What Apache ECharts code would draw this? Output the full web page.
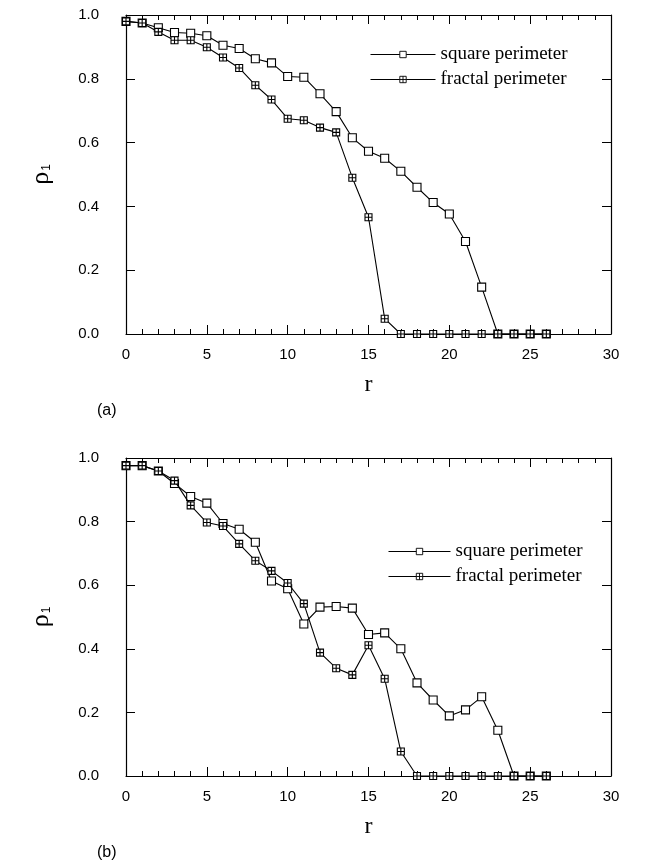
<!DOCTYPE html>
<html><head><meta charset="utf-8">
<script src="https://cdn.jsdelivr.net/npm/echarts@6/dist/echarts.min.js"></script>
<style>html,body{margin:0;padding:0;background:#fff}#c{width:647px;height:862px}</style>
</head><body><div id="c"></div>
<script>
const rValues = [0,1,2,3,4,5,6,7,8,9,10,11,12,13,14,15,16,17,18,19,20,21,22,23,24,25,26];
const squareA = [0.98,0.975,0.96,0.945,0.943,0.935,0.905,0.895,0.863,0.85,0.807,0.805,0.753,0.697,0.615,0.573,0.551,0.51,0.46,0.412,0.376,0.29,0.147,0,0,0,0];
const fractalA = [0.98,0.975,0.947,0.921,0.921,0.899,0.867,0.834,0.78,0.735,0.675,0.67,0.647,0.632,0.49,0.366,0.048,0,0,0,0,0,0,0,0,0,0];
const squareB = [0.976,0.976,0.959,0.92,0.879,0.858,0.794,0.776,0.735,0.613,0.589,0.478,0.531,0.533,0.528,0.445,0.45,0.4,0.293,0.239,0.189,0.208,0.249,0.144,0,0,0];
const fractalB = [0.976,0.976,0.959,0.929,0.851,0.797,0.786,0.73,0.677,0.645,0.607,0.542,0.388,0.339,0.318,0.411,0.306,0.077,0,0,0,0,0,0,0,0,0];
const xTicks = [0,5,10,15,20,25,30];
const yTicks = [0,0.2,0.4,0.6,0.8,1.0];
const seriesNames = ['square perimeter','fractal perimeter'];

const chart = echarts.init(document.getElementById('c'), null, {renderer:'canvas'});
const labelFont = {fontFamily:'Liberation Sans', fontSize:15, color:'#000'};
const fractalSymbol = 'path://M0,0L10,0L10,10L0,10Z M5,0L5,10 M0,5L10,5';

function xAx(grid, pos, showLabel) {
  return {
    type:'value', gridIndex:grid, position:pos, min:xTicks[0], max:xTicks[xTicks.length-1], interval:5,
    axisLine:{show:true, onZero:false, lineStyle:{color:'#000', width:1.2}},
    axisTick:{show:true, inside:true, length:9, lineStyle:{color:'#000', width:1}},
    minorTick:{show:true, splitNumber:5, length:5, lineStyle:{color:'#000', width:1}},
    splitLine:{show:false},
    axisLabel:Object.assign({show:showLabel, margin:13}, labelFont),
    name: showLabel ? 'r' : '', nameLocation:'middle', nameGap:39,
    nameTextStyle:{fontFamily:'Liberation Serif', fontSize:24, color:'#000'}
  };
}
function yAx(grid, pos, showLabel) {
  return {
    type:'value', gridIndex:grid, position:pos, min:yTicks[0], max:yTicks[yTicks.length-1], interval:0.2,
    axisLine:{show:true, onZero:false, lineStyle:{color:'#000', width:1.2}},
    axisTick:{show:true, inside:true, length:9, lineStyle:{color:'#000', width:1}},
    splitLine:{show:false},
    axisLabel:Object.assign({show:showLabel, margin:27, formatter:v=>v.toFixed(1)}, labelFont),
    name: showLabel ? '{r|ρ}{s|1}' : '', nameLocation:'middle', nameGap:72, nameRotate:90,
    nameTextStyle:{rich:{r:{fontFamily:'Liberation Serif', fontSize:26, color:'#000'}, s:{fontFamily:'Liberation Sans', fontSize:12, color:'#000', padding:[12,0,0,1]}}}
  };
}
function mk(name, vals, xi, yi) {
  const isSq = name === seriesNames[0];
  return {
    name:name, type:'line', xAxisIndex:xi, yAxisIndex:yi,
    data: rValues.map((r,i)=>[r, vals[i]]),
    symbol: isSq ? 'rect' : fractalSymbol, symbolSize: isSq ? 8 : 7,
    showAllSymbol:true, clip:false,
    lineStyle:{color:'#000', width:1.1},
    itemStyle:{color:'#fff', borderColor:'#000', borderWidth:1.1},
    emphasis:{disabled:true}, z: isSq ? 2 : 3
  };
}
const legendText = {fontFamily:'Liberation Serif', fontSize:19, color:'#000'};
const legendLine = {width:1};
const legendItem = {borderWidth:0.9};
chart.setOption({
  animation:false,
  backgroundColor:'#fff',
  grid:[
    {left:126, top:15, width:485, height:319},
    {left:126, top:458, width:485, height:318}
  ],
  xAxis:[xAx(0,'bottom',true), xAx(0,'top',false), xAx(1,'bottom',true), xAx(1,'top',false)],
  yAxis:[yAx(0,'left',true), yAx(0,'right',false), yAx(1,'left',true), yAx(1,'right',false)],
  legend:[
    {data:seriesNames, orient:'vertical', left:370, top:45, padding:0, itemWidth:65, itemHeight:8, itemGap:6, textStyle:legendText, lineStyle:legendLine, itemStyle:legendItem, selectedMode:false},
    {data:seriesNames, orient:'vertical', left:388, top:542, padding:0, itemWidth:62, itemHeight:8, itemGap:6, textStyle:legendText, lineStyle:legendLine, itemStyle:legendItem, selectedMode:false}
  ],
  title:[
    {text:'(a)', left:92, top:398, textStyle:{fontFamily:'Liberation Sans', fontSize:16, fontWeight:'normal', color:'#000'}},
    {text:'(b)', left:92, top:840, textStyle:{fontFamily:'Liberation Sans', fontSize:16, fontWeight:'normal', color:'#000'}}
  ],
  series:[
    mk(seriesNames[0],squareA,0,0),
    mk(seriesNames[1],fractalA,0,0),
    mk(seriesNames[0],squareB,2,2),
    mk(seriesNames[1],fractalB,2,2)
  ]
});
</script></body></html>
